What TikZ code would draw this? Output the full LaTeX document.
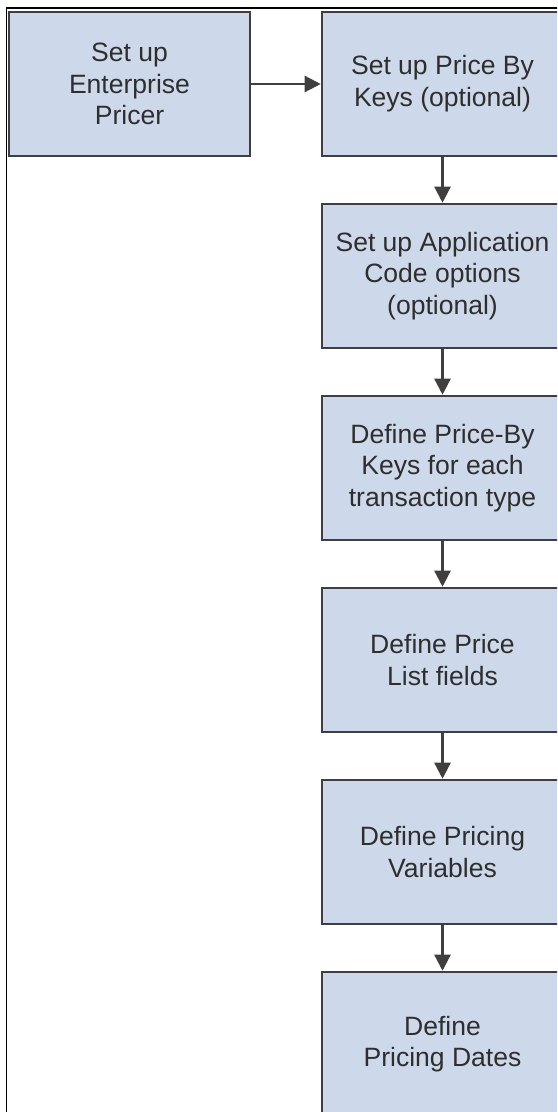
\documentclass[tikz,border=0pt]{standalone}
\usepackage{fontspec}
\setmainfont{Liberation Sans}
\usetikzlibrary{arrows.meta}
\definecolor{boxfill}{HTML}{CDD9EA}
\definecolor{boxline}{HTML}{3F3F3F}
\definecolor{txt}{HTML}{2E2E2E}
\tikzset{
  stepbox/.style={draw=boxline, fill=boxfill, line width=1.9pt, minimum width=180.75pt,
    minimum height=108pt, inner sep=0pt, align=center, text=txt,
    font=\fontsize{19.9}{23.8}\selectfont},
  flow/.style={draw=boxline, line width=1.7pt, -{Triangle[width=12pt,length=12pt]}}
}
\begin{document}
\begin{tikzpicture}[x=0.75pt,y=-0.75pt]
\useasboundingbox (0,0) rectangle (557,1112);
\clip (0,0) rectangle (557,1112);
\draw[black, line width=1.1pt] (6.5,1200) -- (6.5,8) -- (700,8);
\node[stepbox] (l) at (129.5,84) {Set up\\Enterprise\\Pricer};
\node[stepbox] (b1) at (442.5,84) {Set up Price By\\Keys (optional)};
\node[stepbox] (b2) at (442.5,276) {Set up Application\\Code options\\(optional)};
\node[stepbox] (b3) at (442.5,468) {Define Price-By\\Keys for each\\transaction type};
\node[stepbox] (b4) at (442.5,660) {Define Price\\List fields};
\node[stepbox] (b5) at (442.5,852) {Define Pricing\\Variables};
\node[stepbox] (b6) at (442.5,1044) {Define\\Pricing Dates};
\draw[flow] (l) -- (b1);
\draw[flow] (b1) -- (b2);
\draw[flow] (b2) -- (b3);
\draw[flow] (b3) -- (b4);
\draw[flow] (b4) -- (b5);
\draw[flow] (b5) -- (b6);
\end{tikzpicture}
\end{document}
